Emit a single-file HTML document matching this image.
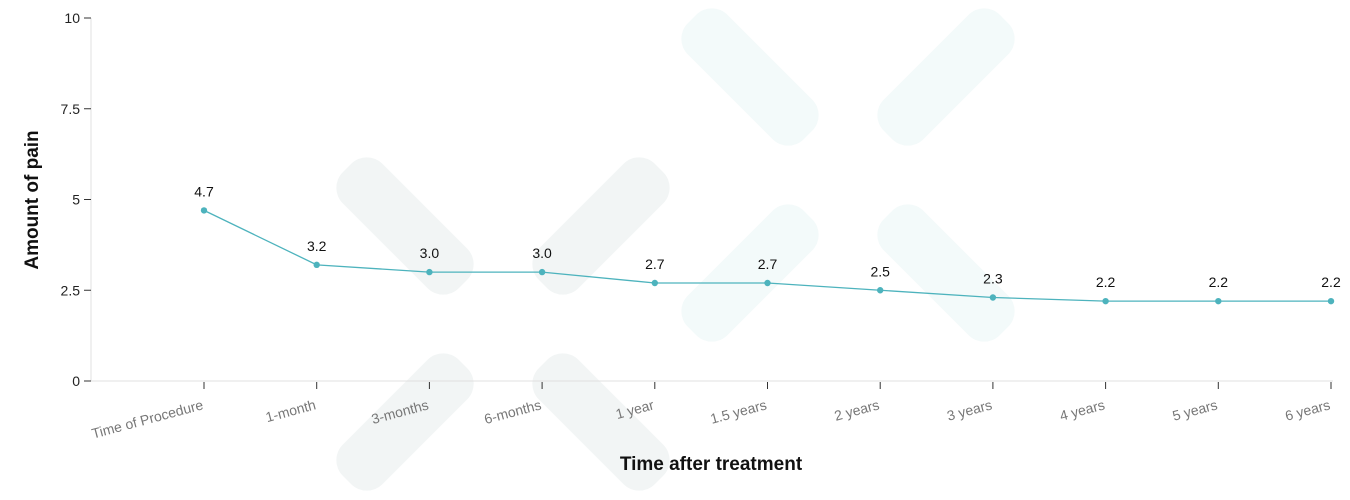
<!DOCTYPE html>
<html><head><meta charset="utf-8"><style>
html,body{margin:0;padding:0;background:#fff;}
svg{display:block;font-family:"Liberation Sans",sans-serif;}
</style></head><body>
<svg id="chart" width="1350" height="500">
<g id="bg"></g>
<g id="axes"></g>
<g id="series"></g>
<text x="38" y="200" transform="rotate(-90 38 200)" text-anchor="middle" font-size="19" font-weight="bold" fill="#111">Amount of pain</text>
<text x="711" y="470" text-anchor="middle" font-size="19" font-weight="bold" fill="#111">Time after treatment</text>
</svg>
<script>
const categories = ["Time of Procedure","1-month","3-months","6-months","1 year","1.5 years","2 years","3 years","4 years","5 years","6 years"];
const painValues = [4.7,3.2,3.0,3.0,2.7,2.7,2.5,2.3,2.2,2.2,2.2];
const yTicks = [0,2.5,5,7.5,10];
const yTickLabels = ["0","2.5","5","7.5","10"];

const NS="http://www.w3.org/2000/svg";
const x0=91,xFirst=204,xLast=1331,yTop=18,yBot=381,yMax=10;
const xScale=i=>xFirst+i*(xLast-xFirst)/(categories.length-1);
const yScale=v=>yBot-(v/yMax)*(yBot-yTop);
function mk(tag,attrs,parent){const e=document.createElementNS(NS,tag);for(const k in attrs)e.setAttribute(k,attrs[k]);parent.appendChild(e);return e;}

const bg=document.getElementById('bg');
function drawX(cx,cy,color){
  [[-98,-98,45],[98,-98,-45],[-98,98,-45],[98,98,45]].forEach(([dx,dy,a])=>{
    const r=mk('rect',{x:cx+dx-82,y:cy+dy-28,width:164,height:56,rx:22,fill:color,transform:`rotate(${a} ${cx+dx} ${cy+dy})`},bg);
    
    
  });
}
drawX(503,324,'#f2f5f5');
drawX(848,175,'#f3fafa');

const ax=document.getElementById('axes');
let l=mk('line',{x1:x0,y1:yTop,x2:x0,y2:yBot,stroke:'#e0e0e0','stroke-width':1},ax);


l=mk('line',{x1:x0,y1:yBot,x2:xLast+2,y2:yBot,stroke:'#e0e0e0','stroke-width':1},ax);


yTicks.forEach((v,i)=>{
  const y=yScale(v);
  const t=mk('line',{x1:x0-7,y1:y,x2:x0,y2:y,stroke:'#333','stroke-width':1},ax);
  
  
  const tx=mk('text',{x:x0-11,y:y+5,'text-anchor':'end','font-size':14,fill:'#222'},ax);
  tx.textContent=yTickLabels[i];
  
  
});
categories.forEach((c,i)=>{
  const x=xScale(i);
  const t=mk('line',{x1:x,y1:yBot+1,x2:x,y2:yBot+8,stroke:'#333','stroke-width':1},ax);
  
  
  const tx=mk('text',{x:x,y:yBot+28,'text-anchor':'end','font-size':14,fill:'#777',transform:`rotate(-15 ${x} ${yBot+28})`},ax);
  tx.textContent=c;
  
  
});

const s=document.getElementById('series');
const pts=painValues.map((v,i)=>xScale(i)+','+yScale(v)).join(' ');
const pl=mk('polyline',{points:pts,fill:'none',stroke:'#4db3bd','stroke-width':1.3},s);


painValues.forEach((v,i)=>{
  const x=xScale(i),y=yScale(v);
  const c=mk('circle',{cx:x,cy:y,r:3.2,fill:'#4db3bd'},s);
  
  
  const t=mk('text',{x:x,y:y-14,'text-anchor':'middle','font-size':14,fill:'#111'},s);
  t.textContent=v.toFixed(1);
  
  
});
</script>
</body></html>
